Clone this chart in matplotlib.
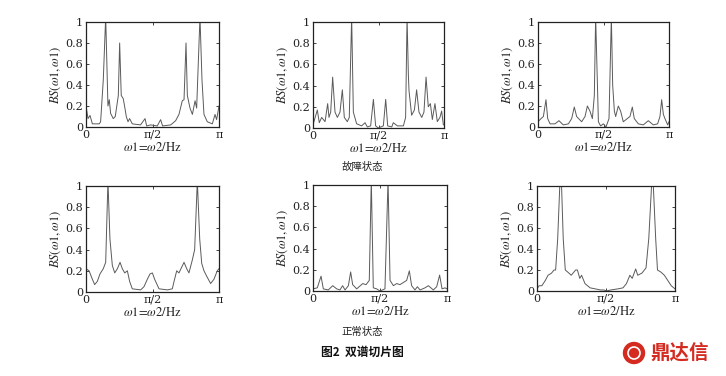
import numpy as np
import matplotlib
matplotlib.use("Agg")
import matplotlib.pyplot as plt
from matplotlib.patches import Ellipse

plt.rcParams['mathtext.fontset'] = 'stix'
plt.rcParams['font.family'] = ['DejaVu Serif', 'Noto Sans CJK SC']

# ---------------- data (x as fraction of pi, y = normalised bispectrum slice) -------------
f1_x = [0.0, 0.015, 0.03, 0.048, 0.1, 0.11, 0.13, 0.148, 0.165, 0.175, 0.185, 0.205, 0.22,
        0.243, 0.253, 0.265, 0.28, 0.29, 0.303, 0.316, 0.328, 0.348, 0.41, 0.444, 0.456,
        0.486, 0.536, 0.561, 0.576, 0.637, 0.674, 0.699, 0.724, 0.737, 0.752, 0.762, 0.782,
        0.80, 0.82, 0.832, 0.857, 0.872, 0.887, 0.912, 0.95, 0.97, 0.982, 1.0]
f1_y = [0.20, 0.08, 0.11, 0.03, 0.03, 0.05, 0.45, 1.05, 0.20, 0.26, 0.13, 0.08, 0.10,
        0.30, 0.80, 0.30, 0.27, 0.20, 0.10, 0.05, 0.08, 0.03, 0.02, 0.08, 0.01,
        0.02, 0.01, 0.07, 0.01, 0.02, 0.06, 0.12, 0.25, 0.26, 0.80, 0.30, 0.18,
        0.12, 0.25, 0.18, 1.05, 0.45, 0.12, 0.05, 0.03, 0.12, 0.07, 0.20]

f2_x = [0.0, 0.033, 0.048, 0.066, 0.092, 0.112, 0.122, 0.135, 0.150, 0.168, 0.186, 0.206,
        0.224, 0.239, 0.262, 0.277, 0.295, 0.308, 0.333, 0.371, 0.397, 0.415, 0.440, 0.461,
        0.478, 0.499, 0.537, 0.555, 0.570, 0.601, 0.613, 0.644, 0.690, 0.707, 0.718, 0.728,
        0.733, 0.753, 0.774, 0.791, 0.809, 0.830, 0.847, 0.863, 0.880, 0.896, 0.911, 0.931,
        0.949, 0.969, 0.982, 0.995, 1.0]
f2_y = [0.03, 0.17, 0.05, 0.10, 0.06, 0.23, 0.10, 0.15, 0.48, 0.15, 0.10, 0.15,
        0.36, 0.10, 0.06, 0.10, 1.05, 0.15, 0.04, 0.02, 0.05, 0.01, 0.02, 0.27,
        0.02, 0.00, 0.02, 0.27, 0.02, 0.01, 0.05, 0.02, 0.02, 0.10, 1.05, 0.50,
        0.35, 0.12, 0.17, 0.36, 0.15, 0.10, 0.15, 0.48, 0.20, 0.23, 0.08, 0.23,
        0.06, 0.10, 0.16, 0.03, 0.03]

f3_x = [0.0, 0.023, 0.041, 0.061, 0.074, 0.092, 0.130, 0.160, 0.193, 0.232, 0.257, 0.277,
        0.295, 0.333, 0.359, 0.377, 0.397, 0.415, 0.430, 0.440, 0.461, 0.478, 0.499, 0.519,
        0.542, 0.560, 0.570, 0.583, 0.593, 0.613, 0.631, 0.651, 0.702, 0.720, 0.735, 0.766,
        0.804, 0.842, 0.880, 0.913, 0.931, 0.944, 0.957, 0.969, 0.990, 1.0]
f3_y = [0.05, 0.08, 0.10, 0.26, 0.08, 0.03, 0.03, 0.06, 0.02, 0.03, 0.08, 0.19,
        0.10, 0.05, 0.10, 0.20, 0.15, 0.08, 0.30, 1.05, 0.05, 0.01, 0.03, 0.00,
        0.08, 1.05, 0.40, 0.15, 0.10, 0.20, 0.15, 0.05, 0.10, 0.19, 0.08, 0.03,
        0.02, 0.06, 0.02, 0.03, 0.10, 0.26, 0.12, 0.08, 0.02, 0.05]

n1_x = [0.0, 0.023, 0.048, 0.065, 0.085, 0.105, 0.130, 0.148, 0.165, 0.180, 0.198, 0.216,
        0.236, 0.256, 0.273, 0.291, 0.311, 0.328, 0.348, 0.411, 0.436, 0.461, 0.481, 0.499,
        0.516, 0.549, 0.612, 0.649, 0.662, 0.682, 0.699, 0.737, 0.757, 0.774, 0.799, 0.817,
        0.837, 0.855, 0.870, 0.887, 0.907, 0.937, 0.962, 0.987, 1.0]
n1_y = [0.22, 0.20, 0.12, 0.07, 0.10, 0.17, 0.22, 0.28, 1.05, 0.50, 0.25, 0.18,
        0.22, 0.28, 0.22, 0.18, 0.20, 0.10, 0.03, 0.02, 0.05, 0.12, 0.17, 0.18,
        0.12, 0.03, 0.02, 0.03, 0.10, 0.20, 0.18, 0.28, 0.22, 0.18, 0.30, 0.40,
        1.05, 0.50, 0.27, 0.20, 0.15, 0.08, 0.12, 0.20, 0.22]

n2_x = [0.0, 0.032, 0.060, 0.077, 0.114, 0.147, 0.177, 0.201, 0.221, 0.239, 0.264, 0.281,
        0.296, 0.326, 0.371, 0.396, 0.420, 0.435, 0.450, 0.475, 0.500, 0.537, 0.560, 0.575,
        0.600, 0.624, 0.649, 0.699, 0.719, 0.736, 0.761, 0.779, 0.799, 0.836, 0.861, 0.898,
        0.923, 0.945, 0.963, 0.985, 1.0]
n2_y = [0.02, 0.03, 0.14, 0.02, 0.01, 0.05, 0.02, 0.01, 0.05, 0.01, 0.05, 0.18,
        0.06, 0.02, 0.07, 0.06, 0.10, 1.05, 0.03, 0.02, 0.00, 0.02, 1.05, 0.10,
        0.05, 0.07, 0.06, 0.10, 0.19, 0.05, 0.01, 0.04, 0.01, 0.03, 0.05, 0.01,
        0.04, 0.15, 0.02, 0.03, 0.02]

n3_x = [0.0, 0.015, 0.035, 0.060, 0.080, 0.105, 0.123, 0.135, 0.150, 0.165, 0.178, 0.190,
        0.205, 0.223, 0.248, 0.280, 0.293, 0.310, 0.323, 0.348, 0.385, 0.423, 0.460, 0.485,
        0.503, 0.535, 0.585, 0.623, 0.648, 0.673, 0.690, 0.715, 0.730, 0.760, 0.790, 0.810,
        0.830, 0.843, 0.860, 0.873, 0.898, 0.923, 0.948, 0.973, 1.0]
n3_y = [0.02, 0.05, 0.05, 0.10, 0.15, 0.17, 0.20, 0.20, 0.50, 1.00, 1.00, 0.50,
        0.20, 0.18, 0.15, 0.20, 0.20, 0.12, 0.15, 0.07, 0.03, 0.02, 0.01, 0.01,
        0.00, 0.01, 0.02, 0.03, 0.07, 0.15, 0.12, 0.21, 0.15, 0.17, 0.22, 0.50,
        1.00, 1.00, 0.50, 0.20, 0.18, 0.15, 0.10, 0.05, 0.02]

yticks = [0, 0.2, 0.4, 0.6, 0.8, 1]
ytick_labels = ["0", "0.2", "0.4", "0.6", "0.8", "1"]
xtick_labels = ["0", "π/2", "π"]
caption_fault = "故障状态"
caption_normal = "正常状态"
figure_title = "图2  双谱切片图"
logo_text = "鼎达信"

series = [(f1_x, f1_y), (f2_x, f2_y), (f3_x, f3_y),
          (n1_x, n1_y), (n2_x, n2_y), (n3_x, n3_y)]

W, H = 726, 376
# pixel boxes: left, top, right, bottom
boxes = [(86, 22, 219, 127), (313, 22, 444, 128), (538, 22, 669, 127),
         (86, 186, 219, 292), (313, 185, 447, 291), (537, 186, 675, 291)]

fig = plt.figure(figsize=(W / 100, H / 100), dpi=100)
fig.patch.set_facecolor("white")

for (xs, ys), (l, t, r, b) in zip(series, boxes):
    ax = fig.add_axes([l / W, (H - b) / H, (r - l) / W, (b - t) / H])
    ax.plot(np.array(xs) * np.pi, ys, color="#5a5a5a", lw=0.7)
    ax.set_xlim(0, np.pi)
    ax.set_ylim(0, 1)
    ax.set_xticks([0, np.pi / 2, np.pi])
    ax.set_xticklabels(xtick_labels)
    ax.set_yticks(yticks)
    ax.set_yticklabels(ytick_labels)
    ax.tick_params(direction="in", length=2.5, width=0.6, top=True, right=True,
                   labelsize=8, pad=2, colors="#222222")
    for s in ax.spines.values():
        s.set_linewidth(0.9)
        s.set_color("#222222")
    ax.set_ylabel(r"$BS(\omega1,\omega1)$", fontsize=9, labelpad=2, color="#222222")
    ax.set_xlabel(r"$\omega1\!=\!\omega2/\mathrm{Hz}$", fontsize=9, labelpad=1, color="#222222")

cjk = ['Noto Sans CJK SC', 'DejaVu Sans']
fig.text(362 / W, 1 - 167 / H, caption_fault, ha="center", va="center",
         fontsize=7.5, family=cjk, color="#222222")
fig.text(362 / W, 1 - 332 / H, caption_normal, ha="center", va="center",
         fontsize=7.5, family=cjk, color="#222222")
fig.text(362 / W, 1 - 352 / H, figure_title, ha="center", va="center",
         fontsize=8.5, family=cjk, weight="bold", color="#111111")

# logo
red = "#d42a20"
fig.patches.append(Ellipse((634 / W, 1 - 353 / H), 21 / W, 21 / H,
                           transform=fig.transFigure, color=red))
fig.patches.append(Ellipse((634 / W, 1 - 353 / H), 12 / W, 12 / H,
                           transform=fig.transFigure, fill=False, ec="white", lw=1.2))
fig.text(680 / W, 1 - 353 / H, logo_text, ha="center", va="center",
         fontsize=14, family=cjk, weight="bold", color=red)

fig.savefig("out.png", dpi=100, facecolor="white")
